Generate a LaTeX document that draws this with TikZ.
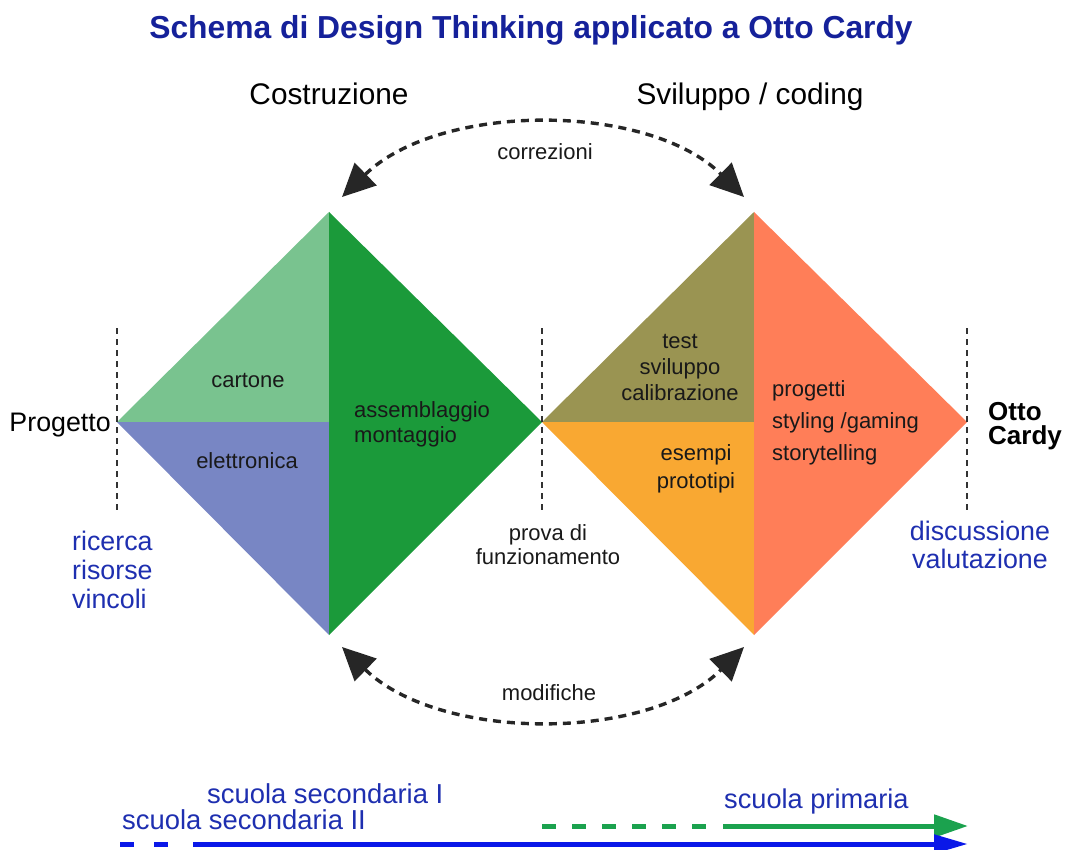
\documentclass[tikz,border=0pt]{standalone}
\usepackage{fontspec}
\setmainfont{Liberation Sans}
\usetikzlibrary{arrows.meta}
\definecolor{titleblue}{HTML}{15219A}
\definecolor{txtblue}{HTML}{1E2FB0}
\definecolor{cLight}{HTML}{79C38F}
\definecolor{cBlue}{HTML}{7886C4}
\definecolor{cDark}{HTML}{1B9A3A}
\definecolor{cOlive}{HTML}{9A9452}
\definecolor{cOrange}{HTML}{F9A832}
\definecolor{cSalmon}{HTML}{FF7E58}
\definecolor{arrBlue}{HTML}{0A18E8}
\definecolor{arrGreen}{HTML}{1BA24E}
\tikzset{
  lbl/.style={font=\fontsize{22}{26}\selectfont, text=black!90, inner sep=0pt, anchor=base},
  head/.style={font=\fontsize{29.8}{32}\selectfont, inner sep=0pt, anchor=base},
  bluetxt/.style={font=\fontsize{26.8}{29}\selectfont, text=txtblue, inner sep=0pt},
  vline/.style={draw=black!80, line width=2.4pt, dash pattern=on 6pt off 5pt},
  loop/.style={draw=black!85, line width=3.4pt, dash pattern=on 8pt off 6pt,
     {Triangle[length=33pt,width=31pt]}-{Triangle[length=33pt,width=31pt]}},
  lineblock/.style={align=left, inner sep=0pt}
}
\begin{document}
\begin{tikzpicture}[x=1pt,y=-1pt]
\useasboundingbox (0,0) rectangle (1067,850);
% diamonds
\coordinate (L) at (117,422); \coordinate (T) at (329,212);
\coordinate (R) at (542,422); \coordinate (B) at (329,635);
\coordinate (C) at (329,422);
\coordinate (T2) at (754,212); \coordinate (R2) at (967,422);
\coordinate (B2) at (754,635); \coordinate (C2) at (754,422);
\fill[cLight] (L) -- (T) -- (C) -- cycle;
\fill[cBlue] (L) -- (C) -- (B) -- cycle;
\fill[cDark] (T) -- (R) -- (B) -- cycle;
\fill[cOlive] (R) -- (T2) -- (C2) -- cycle;
\fill[cOrange] (R) -- (C2) -- (B2) -- cycle;
\fill[cSalmon] (T2) -- (R2) -- (B2) -- cycle;
% dashed verticals
\coordinate (v1a) at (117,328); \coordinate (v1b) at (117,514);
\coordinate (v2a) at (542,328); \coordinate (v2b) at (542,514);
\coordinate (v3a) at (967,328); \coordinate (v3b) at (967,514);
\draw[vline] (v1a) -- (v1b);
\draw[vline] (v2a) -- (v2b);
\draw[vline] (v3a) -- (v3b);
% loops
\coordinate (ua) at (342,197); \coordinate (ub) at (744,197);
\coordinate (la) at (342,647); \coordinate (lb) at (744,647);
\draw[loop] (ua) .. controls (440,102) and (648,102) .. (ub);
\draw[loop] (la) .. controls (440,742) and (648,742) .. (lb);
% title & headers
\node[font=\bfseries\fontsize{31.8}{34}\selectfont, text=titleblue, inner sep=0pt, anchor=base] (title) at (531,39) {Schema di Design Thinking applicato a Otto Cardy};
\node[head] (costr) at (329,105) {Costruzione};
\node[head] (svil) at (750,105) {Sviluppo / coding};
\node[lbl] (corr) at (545,160) {correzioni};
\node[lbl] (modif) at (549,700) {modifiche};
% labels in diamonds
\node[lbl] (cart) at (248,387) {cartone};
\node[lbl] (elet) at (247,468) {elettronica};
\node[lbl, anchor=base west] (ass) at (354,417) {assemblaggio};
\node[lbl, anchor=base west] (mon) at (354,442) {montaggio};
\node[lbl] (test) at (680,348) {test};
\node[lbl] (svl) at (680,374) {sviluppo};
\node[lbl] (cal) at (680,400) {calibrazione};
\node[lbl] (es) at (696,460) {esempi};
\node[lbl] (pro) at (696,488) {prototipi};
\node[lbl, anchor=base west] (prg) at (772,396) {progetti};
\node[lbl, anchor=base west] (sty) at (772,428) {styling /gaming};
\node[lbl, anchor=base west] (stt) at (772,460) {storytelling};
% side labels
\node[font=\fontsize{26.8}{29}\selectfont, inner sep=0pt, anchor=base east] (prog) at (111,431) {Progetto};
\node[font=\bfseries\fontsize{26}{24}\selectfont, inner sep=0pt, anchor=base west] (otto) at (988,420) {Otto};
\node[font=\bfseries\fontsize{26}{24}\selectfont, inner sep=0pt, anchor=base west] (cardy) at (988,444) {Cardy};
\node[bluetxt, anchor=base west] (ric) at (72,550) {ricerca};
\node[bluetxt, anchor=base west] (ris) at (72,579) {risorse};
\node[bluetxt, anchor=base west] (vin) at (72,608) {vincoli};
\node[lbl] (prova) at (548,540) {prova di};
\node[lbl] (funz) at (548,564) {funzionamento};
\node[bluetxt, anchor=base] (disc) at (980,540) {discussione};
\node[bluetxt, anchor=base] (valu) at (980,568) {valutazione};
% bottom
\node[bluetxt, font=\fontsize{27.4}{29}\selectfont, anchor=base west] (ss1) at (207,803) {scuola secondaria I};
\node[bluetxt, font=\fontsize{27.4}{29}\selectfont, anchor=base west] (ss2) at (122,829) {scuola secondaria II};
\node[bluetxt, font=\fontsize{27.2}{29}\selectfont, anchor=base west] (sp) at (724,808) {scuola primaria};
\coordinate (g0) at (542,826); \coordinate (g1) at (716,826); \coordinate (g2) at (723,826); \coordinate (g3) at (968,826);
\coordinate (b0) at (120,844); \coordinate (b1) at (184,844); \coordinate (b2) at (193,844); \coordinate (b3) at (968,844);
\draw[arrGreen, line width=5pt, dash pattern=on 14pt off 16pt] (g0) -- (g1);
\draw[arrGreen, line width=5pt, -{Triangle[length=34pt,width=22pt]}] (g2) -- (g3);
\draw[arrBlue, line width=5pt, dash pattern=on 14pt off 20pt] (b0) -- (b1);
\draw[arrBlue, line width=5pt, -{Triangle[length=34pt,width=18pt]}] (b2) -- (b3);
\end{tikzpicture}
\end{document}
